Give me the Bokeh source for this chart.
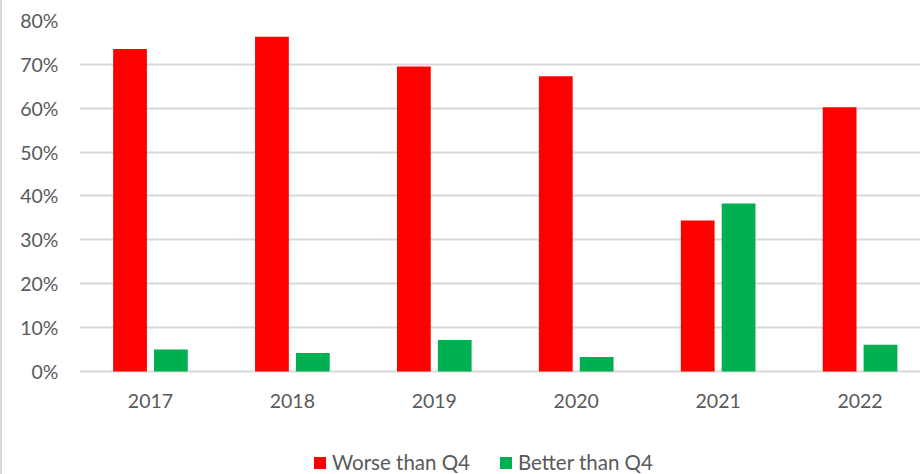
from bokeh.plotting import figure
from bokeh.models import ColumnDataSource, Range1d, FixedTicker, NumeralTickFormatter, Legend, LegendItem
from bokeh.transform import dodge
from bokeh.embed import file_html
from bokeh.resources import INLINE

years = ["2017", "2018", "2019", "2020", "2021", "2022"]
worse = [0.735, 0.763, 0.695, 0.673, 0.344, 0.602]
better = [0.050, 0.042, 0.072, 0.033, 0.383, 0.061]

FONT = "Lato"
TEXT = "#595959"
GRID = "#d9d9d9"

idx = list(range(len(years)))
src = ColumnDataSource(dict(x=idx, worse=worse, better=better))

# the frame runs down to the bottom edge so the legend can sit inside it;
# the category axis is pinned at y = 0
p = figure(width=920, height=474, output_backend="svg", toolbar_location=None,
           x_range=Range1d(-0.5, 5.44), y_range=Range1d(-0.2348, 0.8),
           min_border_left=77, min_border_right=0, min_border_top=20,
           min_border_bottom=0, background_fill_color="white",
           border_fill_color="white", outline_line_color=None)
p.styles = {"border-left": "2px solid #d9d9d9"}

off = 0.144
w = 0.238
r1 = p.vbar(x=dodge("x", -off), top="worse", width=w, source=src,
            fill_color="#ff0000", line_color=None)
r2 = p.vbar(x=dodge("x", off), top="better", width=w, source=src,
            fill_color="#00b050", line_color=None)

p.xaxis.ticker = FixedTicker(ticks=idx)
p.xaxis.major_label_overrides = {i: y for i, y in enumerate(years)}
p.xaxis.fixed_location = 0
p.yaxis.ticker = FixedTicker(ticks=[i / 10 for i in range(9)])
p.yaxis.formatter = NumeralTickFormatter(format="0%")

for ax in (p.xaxis, p.yaxis):
    ax.axis_line_color = None
    ax.major_tick_line_color = None
    ax.minor_tick_line_color = None
    ax.major_tick_out = 0
    ax.major_tick_in = 0
    ax.major_label_text_font = FONT
    ax.major_label_text_font_size = "19.5px"
    ax.major_label_text_color = TEXT
p.yaxis.major_label_standoff = 21
p.xaxis.major_label_standoff = 23

p.xgrid.grid_line_color = None
p.ygrid.grid_line_color = GRID
p.ygrid.grid_line_width = 2

legend = Legend(items=[LegendItem(label="Worse than Q4", renderers=[r1]),
                       LegendItem(label="Better than Q4", renderers=[r2])],
                orientation="horizontal", location=(233, 0),
                glyph_width=15, glyph_height=15, label_standoff=5, spacing=28,
                padding=0, margin=0, border_line_color=None,
                background_fill_alpha=0,
                label_text_font=FONT, label_text_font_size="20.5px",
                label_text_color=TEXT)
p.add_layout(legend)

open("out.html", "w").write(file_html(p, INLINE))
